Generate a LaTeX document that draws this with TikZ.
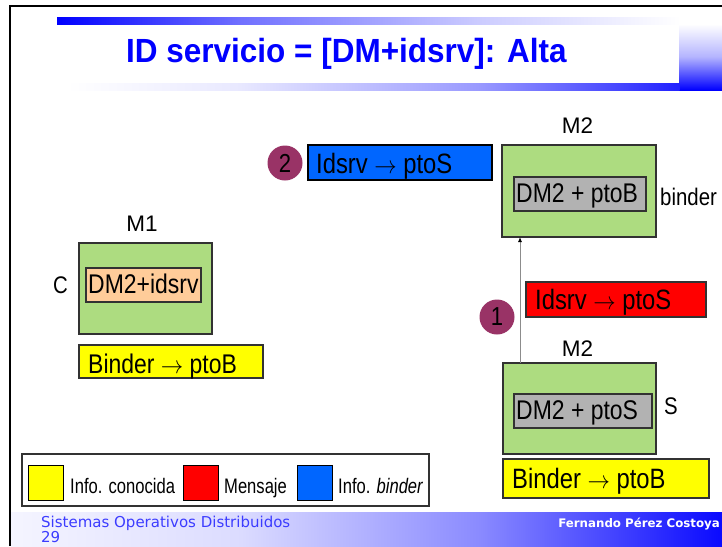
\documentclass[tikz,border=0pt]{standalone}
\usepackage{fontspec}
\usepackage{graphicx}
\setmainfont{Liberation Sans}
\newfontfamily\narrowsf[FakeStretch=0.85]{Liberation Sans}
\newfontfamily\legendsf[FakeStretch=0.79]{Liberation Sans}
\newfontfamily\titlesf[FakeStretch=0.94]{Liberation Sans Bold}
\newfontfamily\footsf{DejaVu Sans}
\newfontfamily\footbf{DejaVu Sans Bold}
\usetikzlibrary{arrows.meta}

\definecolor{slideblue}{RGB}{0,0,255}
\definecolor{footblue}{RGB}{60,60,255}
\definecolor{boxgreen}{RGB}{173,220,128}
\definecolor{boxgray}{RGB}{178,178,178}
\definecolor{boxpeach}{RGB}{255,204,153}
\definecolor{msgred}{RGB}{255,0,0}
\definecolor{msgblue}{RGB}{0,102,255}
\definecolor{infoyellow}{RGB}{255,255,0}
\definecolor{stepplum}{RGB}{153,51,102}
\definecolor{edgegray}{RGB}{50,50,50}

\newcommand{\toarrow}{\scalebox{0.9}[1]{$\rightarrow$}}

\begin{document}
\begin{tikzpicture}[x=1pt,y=-1pt,
  panel/.style={draw=edgegray, line width=1.2pt, inner sep=0pt, outer sep=0pt, anchor=north west},
  boxtext/.style={inner sep=0pt, anchor=base west, font=\narrowsf\fontsize{27pt}{30pt}\selectfont},
  msgtext/.style={inner sep=0pt, anchor=base west, font=\narrowsf\fontsize{28pt}{30pt}\selectfont},
  sidelabel/.style={inner sep=0pt, anchor=base west, font=\narrowsf\fontsize{24pt}{26pt}\selectfont},
  hostlabel/.style={inner sep=0pt, anchor=base, font=\fontsize{22.5pt}{24pt}\selectfont},
  stepmark/.style={circle, fill=stepplum, minimum size=35pt, inner sep=0pt, font=\narrowsf\fontsize{26pt}{28pt}\selectfont},
  legendtext/.style={inner sep=0pt, anchor=base west, font=\legendsf\fontsize{21pt}{23pt}\selectfont},
  swatch/.style={draw=black, line width=1pt, inner sep=0pt, outer sep=0pt, anchor=north west, minimum width=35pt, minimum height=35pt}]

\useasboundingbox (0,0) rectangle (722,546);
\fill[white] (0,0) rectangle (722,546);

% slide decoration: header bars
\shade[left color=slideblue, right color=slideblue!56] (57,17) rectangle (240.5,24);
\shade[left color=slideblue!56, right color=slideblue!20] (240,17) rectangle (480.5,24);
\shade[left color=slideblue!20, right color=white] (480,17) rectangle (680,24);
\shade[top color=white, bottom color=slideblue!30] (679,24) rectangle (722,57.5);
\shade[top color=slideblue!30, bottom color=slideblue] (679,57) rectangle (722,90);
\shade[left color=white, right color=slideblue!9] (67,83) rectangle (240.5,90);
\shade[left color=slideblue!9, right color=slideblue!40] (240,83) rectangle (480.5,90);
\shade[left color=slideblue!40, right color=slideblue!87] (480,83) rectangle (679.5,90);

% footer band
\shade[left color=slideblue!4, right color=slideblue!14] (11,512) rectangle (240.5,546);
\shade[left color=slideblue!14, right color=slideblue!46] (240,512) rectangle (480.5,546);
\shade[left color=slideblue!46, right color=slideblue!96] (480,512) rectangle (722,546);

% slide frame
\draw[line width=2pt, black] (10,546) -- (10,6) -- (722,6);

% title
\node[inner sep=0pt, anchor=base west, text=slideblue, font=\titlesf\fontsize{33.5pt}{36pt}\selectfont] (title) at (126,62) {ID servicio = [DM+idsrv]: Alta};

% client machine M1
\node[hostlabel] (m1-name) at (142,231) {M1};
\node[panel, fill=boxgreen, minimum width=133pt, minimum height=91pt] (m1) at (79,243) {};
\node[panel, fill=boxpeach, minimum width=115pt, minimum height=34pt] (c-id) at (86,268) {};
\node[boxtext] (c-id-text) at (88,293) {DM2+idsrv};
\node[sidelabel] (c-name) at (53,293) {C};
\node[panel, fill=infoyellow, minimum width=184pt, minimum height=33pt] (c-binder) at (79,345) {};
\node[boxtext] (c-binder-text) at (88,373) {Binder \toarrow{} ptoB};

% binder machine M2
\node[hostlabel] (b-name) at (577.5,133) {M2};
\node[panel, fill=boxgreen, minimum width=154pt, minimum height=92pt] (b-host) at (502,145) {};
\node[panel, fill=boxgray, minimum width=132pt, minimum height=34pt] (b-addr) at (514,177) {};
\node[boxtext] (b-addr-text) at (516,202) {DM2 + ptoB};
\node[sidelabel] (b-role) at (660,205) {binder};

% step 2: binder records the service
\node[stepmark] (step2) at (285,163) {2};
\node[panel, draw=black, fill=msgblue, minimum width=184pt, minimum height=35pt] (b-entry) at (308,145) {};
\node[msgtext] (b-entry-text) at (316,173) {Idsrv \toarrow{} ptoS};

% server machine M2
\node[hostlabel] (s-name) at (577.5,356) {M2};
\node[panel, fill=boxgreen, minimum width=153pt, minimum height=91pt] (s-host) at (503,363) {};
\node[panel, fill=boxgray, minimum width=138pt, minimum height=34pt] (s-addr) at (514,394) {};
\node[boxtext] (s-addr-text) at (516,419) {DM2 + ptoS};
\node[sidelabel] (s-role) at (664,414) {S};
\node[panel, fill=infoyellow, minimum width=206pt, minimum height=39pt] (s-binder) at (503,459) {};
\node[msgtext] (s-binder-text) at (512,488) {Binder \toarrow{} ptoB};

% step 1: registration message
\node[stepmark] (step1) at (497,317) {1};
\node[panel, fill=msgred, minimum width=180pt, minimum height=35pt] (reg-msg) at (526,282) {};
\node[msgtext] (reg-msg-text) at (535,309) {Idsrv \toarrow{} ptoS};
\draw[line width=0.9pt, black!45, -{Latex[length=5pt, width=4pt, color=black]}]
  ([xshift=17pt]s-host.north west) -- ([xshift=18pt]b-host.south west);

% legend
\node[panel, fill=white, minimum width=407pt, minimum height=52pt] (legend) at (22,454) {};
\node[swatch, fill=infoyellow] (key-known) at (28,465) {};
\node[legendtext] (key-known-text) at (70,493) {Info. conocida};
\node[swatch, fill=msgred] (key-msg) at (183,465) {};
\node[legendtext] (key-msg-text) at (224,493) {Mensaje};
\node[swatch, fill=msgblue] (key-binder) at (297,465) {};
\node[legendtext] (key-binder-text) at (338,493) {Info. \textit{binder}};

% footer texts
\node[inner sep=0pt, anchor=base west, text=footblue, font=\footsf\fontsize{15pt}{15pt}\selectfont] (course) at (41,527) {Sistemas Operativos Distribuidos};
\node[inner sep=0pt, anchor=base west, text=footblue, font=\footsf\fontsize{15pt}{15pt}\selectfont] (page) at (41,542) {29};
\node[inner sep=0pt, anchor=base east, text=white, font=\footbf\fontsize{11.8pt}{13pt}\selectfont] (author) at (720,527) {Fernando Pérez Costoya};

\end{tikzpicture}
\end{document}
